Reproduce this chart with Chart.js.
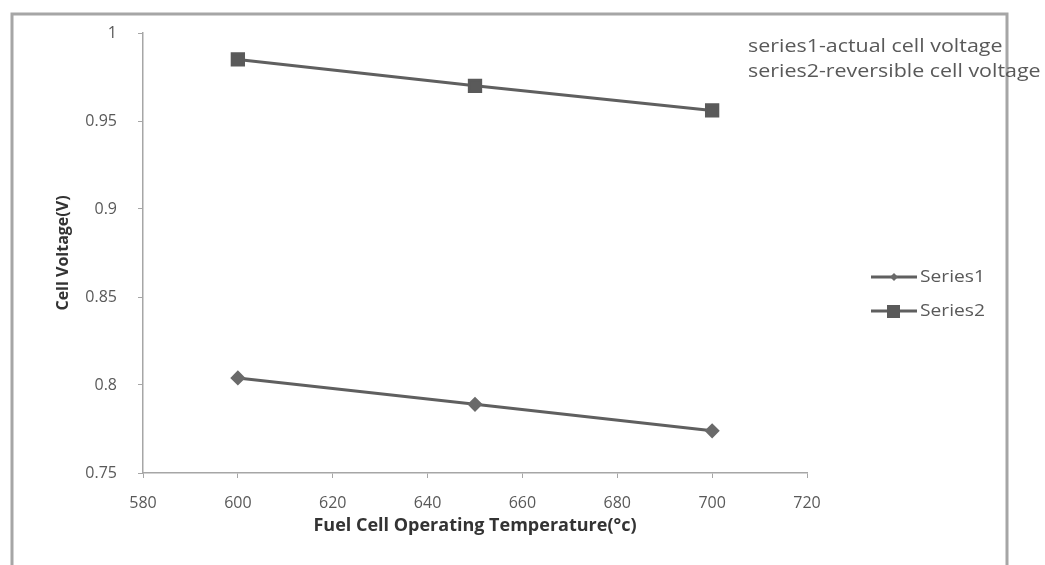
<!DOCTYPE html>
<html>
<head>
<meta charset="utf-8">
<script src="https://cdn.jsdelivr.net/npm/chart.js@4"></script>
<style>
  html, body { margin: 0; padding: 0; background: #fff; }
  #wrap { width: 1045px; height: 565px; }
</style>
</head>
<body>
<div id="wrap"><canvas id="voltChart" width="1045" height="565"></canvas></div>
<script>
// data
const temps = [600, 650, 700];
const series1 = [0.804, 0.789, 0.774]; // actual cell voltage
const series2 = [0.985, 0.970, 0.956]; // reversible cell voltage
const seriesNames = ['Series1', 'Series2'];
const noteLines = ['series1-actual cell voltage', 'series2-reversible cell voltage'];
const xTitle = 'Fuel Cell Operating Temperature(\u00b0c)';
const yTitle = 'Cell Voltage(V)';

const FONT = "'Open Sans', 'Noto Sans', sans-serif";
const lineCol = '#5f5f5f';

// text stretched sideways a bit, the original font is wider
function wideText(c, txt, x, y, sx) {
    c.save();
    c.translate(x, y);
    c.scale(sx, 1);
    c.fillText(txt, 0, 0);
    c.restore();
}

// outer frame + note text + legend
const decor = {
    id: 'decor',
    beforeDraw(chart) {
        const c = chart.ctx;
        c.save();
        c.fillStyle = '#fff';
        c.fillRect(0, 0, chart.width, chart.height);
        c.strokeStyle = '#a6a6a6';
        c.lineWidth = 3;
        c.beginPath();
        c.moveTo(12, 565);
        c.lineTo(12, 14);
        c.lineTo(1007, 14);
        c.lineTo(1007, 565);
        c.stroke();
        c.restore();
    },
    afterDraw(chart) {
        const c = chart.ctx;
        c.save();
        c.fillStyle = '#595959';
        c.font = '18px ' + FONT;
        c.textBaseline = 'middle';
        noteLines.forEach((t, i) => wideText(c, t, 748, 47 + i * 25, 1.19));
        // legend
        c.font = '16px ' + FONT;
        chart.data.datasets.forEach((ds, i) => {
            const y = 277 + i * 34;
            c.strokeStyle = ds.borderColor;
            c.lineWidth = 3;
            c.beginPath();
            c.moveTo(871, y);
            c.lineTo(917, y);
            c.stroke();
            c.fillStyle = ds.pointBackgroundColor;
            if (ds.pointStyle === 'rect') {
                c.fillRect(887, y - 6, 13, 13);
            } else {
                c.beginPath();
                c.moveTo(894, y - 4);
                c.lineTo(898, y);
                c.lineTo(894, y + 4);
                c.lineTo(890, y);
                c.closePath();
                c.fill();
            }
            c.fillStyle = '#595959';
            wideText(c, ds.label, 920, y, 1.2);
        });
        c.restore();
    }
};

new Chart(document.getElementById('voltChart'), {
    type: 'line',
    data: {
        datasets: [
            {
                label: seriesNames[0],
                data: temps.map((t, i) => ({ x: t, y: series1[i] })),
                borderColor: lineCol,
                backgroundColor: lineCol,
                pointBackgroundColor: '#6a6a6a',
                pointBorderColor: '#6a6a6a',
                pointStyle: 'rectRot',
                pointRadius: 5.5,
                borderWidth: 3
            },
            {
                label: seriesNames[1],
                data: temps.map((t, i) => ({ x: t, y: series2[i] })),
                borderColor: lineCol,
                backgroundColor: lineCol,
                pointBackgroundColor: '#5a5a5a',
                pointBorderColor: '#5a5a5a',
                pointStyle: 'rect',
                pointRadius: 8,
                borderWidth: 3
            }
        ]
    },
    options: {
        responsive: false,
        animation: false,
        layout: { padding: { left: 50, top: 33, right: 238, bottom: 24 } },
        plugins: {
            legend: { display: false },
            tooltip: { enabled: false }
        },
        scales: {
            x: {
                type: 'linear',
                min: 580,
                max: 720,
                ticks: { stepSize: 20, color: '#595959', font: { family: FONT, size: 16 }, padding: 16 },
                grid: { drawOnChartArea: false, tickLength: 5, color: '#a6a6a6' },
                border: { color: '#a6a6a6', width: 1.5 },
                title: { display: true, text: xTitle, color: '#333', font: { family: FONT, size: 18, weight: 'bold' }, padding: 4 },
                afterFit: s => { s.height = 68; }
            },
            y: {
                min: 0.75,
                max: 1,
                ticks: {
                    stepSize: 0.05,
                    color: '#595959',
                    font: { family: FONT, size: 16 },
                    padding: 21,
                    callback: v => String(+v.toFixed(2))
                },
                grid: { drawOnChartArea: false, tickLength: 5, color: '#a6a6a6' },
                border: { color: '#a6a6a6', width: 1.5 },
                title: { display: true, text: yTitle, color: '#333', font: { family: FONT, size: 16, weight: 'bold' }, padding: 4 },
                afterFit: s => { s.width = 93; }
            }
        }
    },
    plugins: [decor]
});
</script>
</body>
</html>
